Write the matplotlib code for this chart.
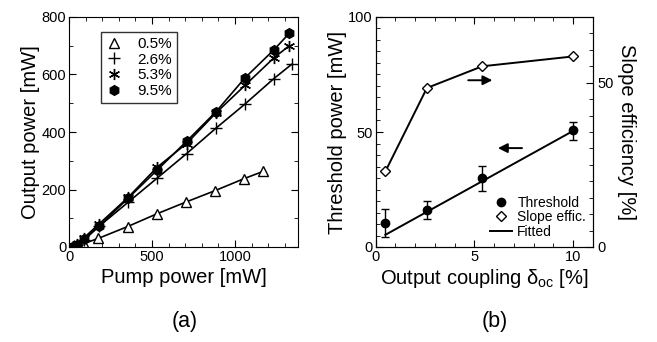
import numpy as np
import matplotlib
matplotlib.use('Agg')
import matplotlib.pyplot as plt
from matplotlib.ticker import MultipleLocator
from matplotlib.lines import Line2D

plt.rcParams['font.family'] = ['Liberation Sans', 'DejaVu Sans']
plt.rcParams['mathtext.fontset'] = 'custom'
plt.rcParams['mathtext.rm'] = 'Liberation Sans'
plt.rcParams['mathtext.it'] = 'Liberation Sans'

# (a) output power vs pump power for each output coupling
pump_95 = [30, 50, 90, 181, 357, 532, 709, 885, 1060, 1235, 1327]
out_95 = [2, 8, 28, 72, 170, 268, 368, 470, 588, 686, 743]
pump_53 = [30, 50, 90, 181, 357, 532, 709, 885, 1060, 1235, 1327]
out_53 = [2, 10, 32, 80, 173, 278, 360, 466, 562, 658, 700]
pump_26 = [30, 50, 90, 181, 357, 532, 709, 885, 1060, 1235, 1341]
out_26 = [2, 8, 24, 72, 156, 240, 325, 413, 497, 586, 635]
pump_05 = [30, 50, 90, 177, 353, 528, 703, 880, 1056, 1170]
out_05 = [0, 4, 12, 30, 71, 115, 156, 196, 238, 263]
labels_a = ['0.5%', '2.6%', '5.3%', '9.5%']

# (b) threshold and slope efficiency vs output coupling
coupling = [0.5, 2.6, 5.4, 10.0]
threshold = [10.6, 16.1, 29.9, 50.9]
thr_err_lo = [6.1, 3.9, 5.4, 4.4]
thr_err_hi = [5.8, 3.9, 5.3, 3.6]
slope_eff = [23.0, 48.4, 55.0, 58.0]
fit_x = [0.5, 10.0]
fit_y = [5.3, 50.5]

fig = plt.figure(figsize=(6.57, 3.42), dpi=100)
ax1 = fig.add_axes([69/657, 1-247/342, 229/657, 230/342])
ax2 = fig.add_axes([375.5/657, 1-247/342, 217.5/657, 230/342])

lw = 1.2
lab_fs = 14.5
tick_fs = 10.5

ax1.plot(pump_05, out_05, '-', color='k', lw=lw, marker='^', mfc='white', mec='k', ms=7, mew=1.0)
ax1.plot(pump_26, out_26, '-', color='k', lw=lw, marker='+', ms=8, mew=1.0)
ax1.plot(pump_53, out_53, '-', color='k', lw=lw, marker=(6, 2, 0), ms=8, mew=1.0)
ax1.plot(pump_95, out_95, '-', color='k', lw=lw, marker='h', mfc='k', mec='k', ms=7)

ax1.set_xlim(0, 1380)
ax1.set_ylim(0, 800)
ax1.xaxis.set_major_locator(MultipleLocator(500))
ax1.xaxis.set_minor_locator(MultipleLocator(100))
ax1.yaxis.set_major_locator(MultipleLocator(200))
ax1.yaxis.set_minor_locator(MultipleLocator(100))
ax1.tick_params(which='both', direction='in', top=True, right=True, labelsize=tick_fs, pad=2)
ax1.tick_params(which='major', length=5)
ax1.tick_params(which='minor', length=3)
ax1.set_xlabel('Pump power [mW]', fontsize=lab_fs, labelpad=3)
ax1.set_ylabel('Output power [mW]', fontsize=lab_fs, labelpad=1)

handles = [
    Line2D([], [], ls='none', marker='^', mfc='white', mec='k', ms=7),
    Line2D([], [], ls='none', marker='+', color='k', ms=8),
    Line2D([], [], ls='none', marker=(6, 2, 0), color='k', ms=8),
    Line2D([], [], ls='none', marker='h', color='k', ms=7),
]
leg = ax1.legend(handles, labels_a, loc='upper left', bbox_to_anchor=(0.14, 0.935),
                 borderaxespad=0, fontsize=11, frameon=True, fancybox=False, edgecolor='k',
                 handlelength=1.0, handletextpad=1.0, labelspacing=0.1, borderpad=0.35)
leg.get_frame().set_linewidth(1.0)

ax2.errorbar(coupling, threshold, yerr=[thr_err_lo, thr_err_hi], fmt='o', color='k',
             ms=6, capsize=3, elinewidth=1.0, capthick=1.0)
ax2.plot(fit_x, fit_y, '-', color='k', lw=1.4)
ax2.set_xlim(0, 11)
ax2.set_ylim(0, 100)
ax2.xaxis.set_major_locator(MultipleLocator(5))
ax2.xaxis.set_minor_locator(MultipleLocator(1))
ax2.yaxis.set_major_locator(MultipleLocator(50))
ax2.yaxis.set_minor_locator(MultipleLocator(5))
ax2.tick_params(which='both', direction='in', top=True, labelsize=tick_fs, pad=2)
ax2.tick_params(which='major', length=5)
ax2.tick_params(which='minor', length=3)
ax2.set_xlabel(r'Output coupling $\delta_{\rm oc}$ [%]', fontsize=lab_fs, labelpad=2)
ax2.set_ylabel('Threshold power [mW]', fontsize=lab_fs, labelpad=1)

ax3 = ax2.twinx()
ax3.plot(coupling, slope_eff, '-', color='k', lw=1.4, marker='D', mfc='white', mec='k', ms=5.5, mew=1.0)
ax3.set_ylim(0, 70)
ax3.yaxis.set_major_locator(MultipleLocator(50))
ax3.yaxis.set_minor_locator(MultipleLocator(5))
ax3.tick_params(which='both', direction='in', labelsize=tick_fs, pad=3)
ax3.tick_params(which='major', length=5)
ax3.tick_params(which='minor', length=3)
ax3.set_ylabel('Slope efficiency [%]', fontsize=lab_fs, rotation=270, labelpad=16)

ax2.annotate('', xy=(6.05, 72.5), xytext=(4.55, 72.5),
             arrowprops=dict(arrowstyle='-|>', color='k', lw=1.4, mutation_scale=14))
ax2.annotate('', xy=(6.05, 43), xytext=(7.55, 43),
             arrowprops=dict(arrowstyle='-|>', color='k', lw=1.4, mutation_scale=14))

h2 = [Line2D([], [], ls='none', marker='o', color='k', ms=6),
      Line2D([], [], ls='none', marker='D', mfc='white', mec='k', ms=5),
      Line2D([], [], ls='-', color='k', lw=1.4)]
ax2.legend(h2, ['Threshold', 'Slope effic.', 'Fitted'], loc='lower right',
           bbox_to_anchor=(1.0, 0.005), borderaxespad=0.3, fontsize=10, frameon=False,
           handlelength=1.6, handletextpad=0.4, labelspacing=0.05, borderpad=0.2)

fig.text(185/657, 1-322/342, '(a)', fontsize=15.5, ha='center', va='center')
fig.text(495/657, 1-322/342, '(b)', fontsize=15.5, ha='center', va='center')

fig.savefig('out.png', dpi=100)
